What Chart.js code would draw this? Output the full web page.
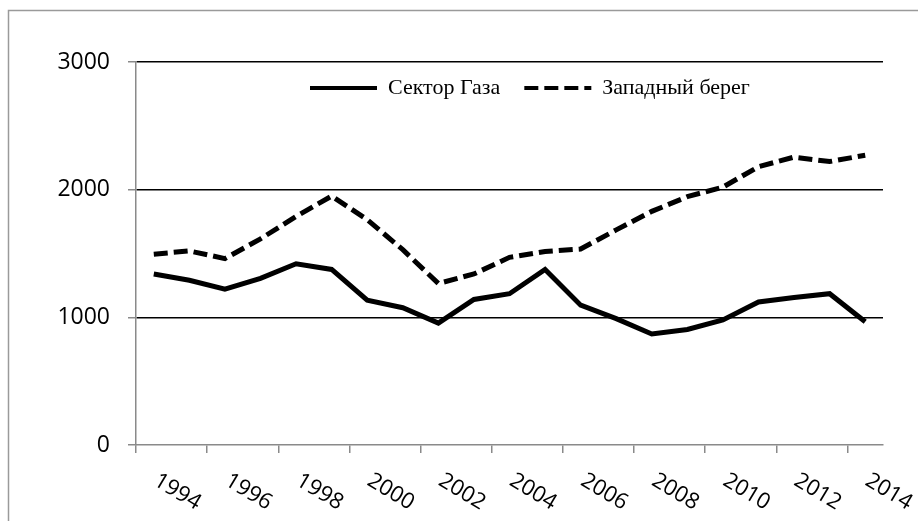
<!DOCTYPE html>
<html>
<head>
<meta charset="utf-8">
<script src="https://cdn.jsdelivr.net/npm/chart.js@4"></script>
<style>
  body { margin: 0; background: #fff; }
</style>
</head>
<body>
<canvas id="gazaChart" width="918" height="521"></canvas>
<script>
  const years = [
    "1994", "1995", "1996", "1997", "1998", "1999", "2000", "2001", "2002", "2003", "2004",
    "2005", "2006", "2007", "2008", "2009", "2010", "2011", "2012", "2013", "2014",
  ];

  const gazaValues = [
    1340, 1290, 1220, 1305, 1420, 1375, 1135, 1075, 955, 1140, 1185,
    1375, 1095, 990, 870, 905, 980, 1120, 1155, 1185, 965,
  ];

  const westBankValues = [
    1495, 1520, 1460, 1615, 1790, 1950, 1765, 1530, 1265, 1340, 1470,
    1515, 1535, 1685, 1830, 1945, 2020, 2180, 2255, 2220, 2270,
  ];

  const seriesNames = ["Сектор Газа", "Западный берег"];
  const yTicks = [0, 1000, 2000, 3000];

  const axisGray = "#8a8a8a";
  const legendPad = 24;

  // outer frame of the picture
  const frame = {
    id: "frame",
    beforeDraw(chart) {
      const ctx = chart.ctx;
      ctx.save();
      ctx.strokeStyle = "#9a9a9a";
      ctx.lineWidth = 1.5;
      ctx.strokeRect(8.5, 10.5, chart.width + 20, chart.height + 20);
      ctx.restore();
    },
  };

  // slanted year labels (every second category)
  const yearLabels = {
    id: "yearLabels",
    afterDraw(chart) {
      const x = chart.scales.x;
      const ctx = chart.ctx;
      ctx.save();
      ctx.font = '22px "Open Sans"';
      ctx.fillStyle = "#000";
      ctx.textAlign = "left";
      ctx.textBaseline = "middle";
      years.forEach((yr, i) => {
        if (i % 2) return;
        ctx.save();
        ctx.translate(x.getPixelForValue(i) + 2, x.bottom + 26);
        ctx.rotate((31 * Math.PI) / 180);
        ctx.fillText(yr, 0, 0);
        ctx.restore();
      });
      ctx.restore();
    },
  };

  // move the legend into the plot, like the original
  const legendInside = {
    id: "legendInside",
    afterLayout(chart) {
      const lg = chart.legend;
      const w = lg.width;
      lg.left = 310 - legendPad;
      lg.right = lg.left + w;
      lg.top = 88 - legendPad - 11;
      lg.bottom = lg.top + 90;
    },
  };

  const ctx = document.getElementById("gazaChart").getContext("2d");

  const gazaChart = new Chart(ctx, {
    type: "line",
    data: {
      labels: years,
      datasets: [
        {
          label: seriesNames[0],
          data: gazaValues,
          borderColor: "#000",
          backgroundColor: "#000",
          borderWidth: 5,
          pointRadius: 0,
          tension: 0,
          fill: false,
        },
        {
          label: seriesNames[1],
          data: westBankValues,
          borderColor: "#000",
          backgroundColor: "#000",
          borderWidth: 5,
          borderDash: [14, 6],
          pointRadius: 0,
          tension: 0,
          fill: false,
        },
      ],
    },
    options: {
      responsive: false,
      animation: false,
      devicePixelRatio: 1,
      layout: {
        padding: { left: 10, top: 61, right: 35, bottom: 68 },
      },
      plugins: {
        tooltip: { enabled: false },
        legend: {
          position: "top",
          align: "start",
          maxHeight: 1,
          labels: {
            usePointStyle: true,
            pointStyle: "line",
            pointStyleWidth: 67,
            boxHeight: 22,
            padding: legendPad,
            color: "#000",
            font: { family: '"Liberation Serif"', size: 22 },
            generateLabels: (chart) =>
              Chart.defaults.plugins.legend.labels.generateLabels(chart).map((item) => {
                const ds = chart.data.datasets[item.datasetIndex];
                item.lineDash = ds.borderDash || [];
                item.lineWidth = 4;
                item.strokeStyle = "#000";
                return item;
              }),
          },
        },
      },
      scales: {
        x: {
          type: "category",
          offset: true,
          grid: {
            offset: true,
            drawOnChartArea: false,
            drawTicks: true,
            tickLength: 8,
            lineWidth: 1.5,
            color: (c) => (c.index % 2 === 0 ? axisGray : "rgba(0,0,0,0)"),
          },
          border: { color: axisGray, width: 1.5 },
          ticks: { display: false, autoSkip: false },
        },
        y: {
          min: 0,
          max: 3000,
          afterBuildTicks: (s) => {
            s.ticks = yTicks.map((v) => ({ value: v }));
          },
          afterFit: (s) => {
            s.width = 126;
          },
          grid: {
            color: (c) => (c.tick && c.tick.value === 0 ? "rgba(0,0,0,0)" : "#000"),
            lineWidth: 1.5,
            tickColor: axisGray,
            tickLength: 8,
          },
          border: { color: axisGray, width: 1.5 },
          ticks: {
            padding: 18,
            color: "#000",
            font: { family: '"Open Sans"', size: 23 },
            callback: (v) => String(v),
          },
        },
      },
    },
    plugins: [frame, yearLabels, legendInside],
  });
</script>
</body>
</html>
